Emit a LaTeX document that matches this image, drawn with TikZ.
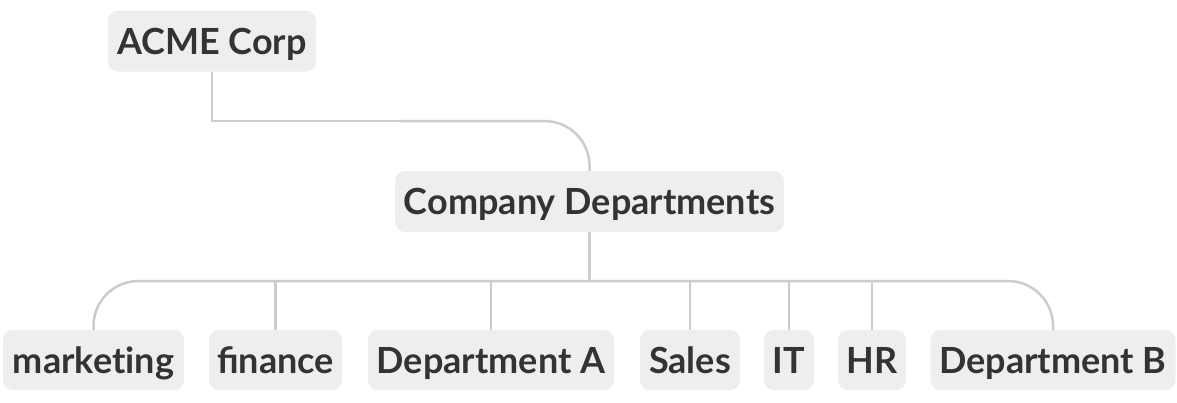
\documentclass[tikz,border=0pt]{standalone}
\usepackage{fontspec}
\setmainfont{Lato}
\usetikzlibrary{calc}
\definecolor{boxfill}{HTML}{EEEEEE}
\definecolor{txt}{HTML}{333333}
\definecolor{linec}{HTML}{CCCCCC}
\tikzset{
  box/.style={fill=boxfill, rounded corners=10pt, inner sep=0pt, text=txt,
    font=\fontsize{36}{42}\selectfont\bfseries, minimum height=61pt,
    text height=26pt, text depth=0pt},
  conn/.style={draw=linec, line width=2.5pt}
}
\begin{document}
\begin{tikzpicture}[x=1pt,y=-1pt]
\useasboundingbox[fill=white] (0,0) rectangle (1177,402);
\node[box, minimum width=208pt] (acme) at (212,41) {ACME Corp};
\node[box, minimum width=389pt] (comp) at (589.5,201.5) {Company Departments};
\node[box, minimum width=181pt, minimum height=60pt] (marketing) at (93.5,360) {market\kern0pt ing};
\node[box, minimum width=133pt, minimum height=60pt] (finance) at (275.5,360) {finance};
\node[box, minimum width=246pt, minimum height=60pt] (depta) at (491,360) {Department A};
\node[box, minimum width=100pt, minimum height=60pt] (sales) at (690,360) {Sales};
\node[box, minimum width=50pt, minimum height=60pt] (it) at (789,360) {IT};
\node[box, minimum width=68pt, minimum height=60pt] (hr) at (872,360) {HR};
\node[box, minimum width=245pt, minimum height=60pt] (deptb) at (1053,360) {Department B};
\coordinate (bus) at (0,281);
\coordinate (mid) at (400,121);
\draw[conn] (acme.south) |- (mid);
\draw[conn, rounded corners=45pt] (mid) -| (comp.north);
\draw[conn] (comp.south) -- (comp.south |- bus);
\draw[conn, rounded corners=45pt] (marketing.north) |- (deptb.north |- bus) -- (deptb.north);
\foreach \n in {finance,depta,sales,it,hr}
  \draw[conn] (\n.north) -- (\n.north |- bus);
\end{tikzpicture}
\end{document}
